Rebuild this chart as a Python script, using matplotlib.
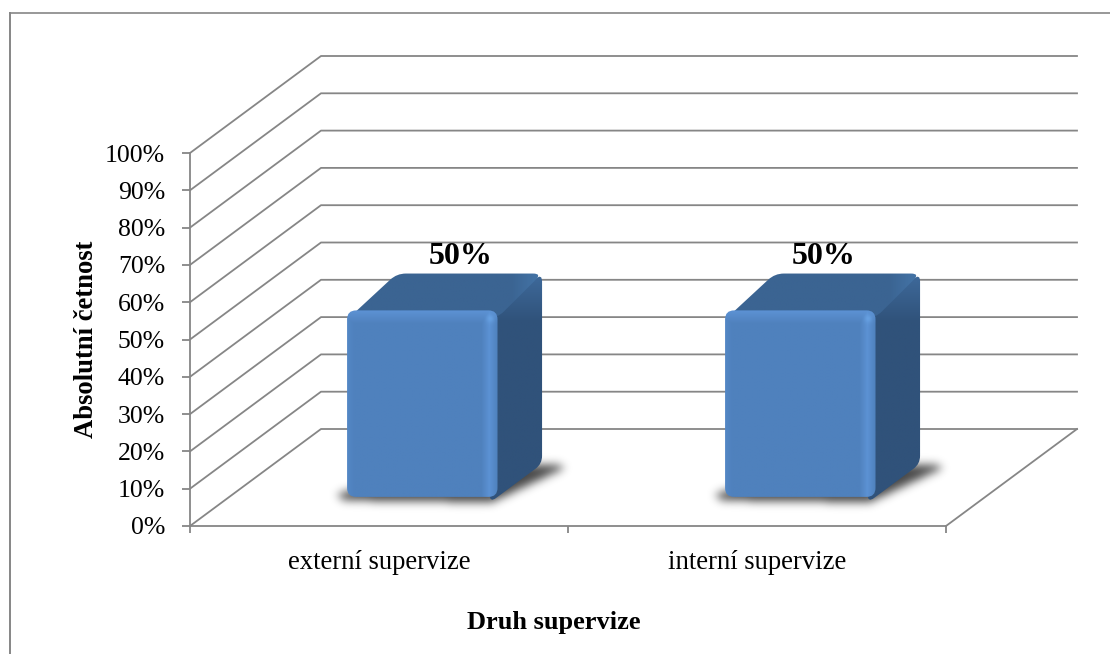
"""Pseudo-3D column chart of supervision types, drawn on a flat matplotlib axes."""

import matplotlib

matplotlib.use("Agg")

import matplotlib.pyplot as plt
import numpy as np
from matplotlib.lines import Line2D
from matplotlib.patches import PathPatch
from matplotlib.path import Path

CATEGORIES = ["externí supervize", "interní supervize"]
VALUES = [50, 50]
VALUE_LABELS = ["50%", "50%"]
Y_TICKS = [0, 10, 20, 30, 40, 50, 60, 70, 80, 90, 100]
Y_TICK_LABELS = ["0%", "10%", "20%", "30%", "40%", "50%", "60%", "70%", "80%", "90%", "100%"]
Y_TITLE = "Absolutní četnost"
X_TITLE = "Druh supervize"

WIDTH, HEIGHT = 1110, 654
AX_LEFT, AX_RIGHT, AX_TOP, AX_BOTTOM = 190, 946, 153, 526
PX_PER_CAT = (AX_RIGHT - AX_LEFT) / len(CATEGORIES)
PX_PER_VAL = (AX_BOTTOM - AX_TOP) / 100

# floor depth of the fake 3D box, in pixels
DEPTH_X, DEPTH_Y = 131, 97
BAR_WIDTH = 0.398
BAR_SHIFT = 4 / PX_PER_CAT
BAR_DEPTH_START, BAR_DEPTH_END = 0.30, 0.64

GRID = "#868686"
FRONT = np.array([79, 129, 189]) / 255
FRONT_LIGHT = np.array([92, 146, 212]) / 255
TOP = np.array([59, 100, 146]) / 255
TOP_LIGHT = np.array([66, 113, 163]) / 255
SIDE = np.array([48, 82, 122]) / 255
SIDE_LIGHT = np.array([60, 102, 150]) / 255


def project(cat, val, depth=0.0):
    """Category/value/depth to data coordinates on the flat axes."""
    return (cat + depth * DEPTH_X / PX_PER_CAT, val + depth * DEPTH_Y / PX_PER_VAL)


def rounded(points, radius):
    """Closed path through points with corners cut by radius pixels."""
    pts = np.array(points, dtype=float)
    scale = np.array([PX_PER_CAT, PX_PER_VAL])
    verts, codes = [], []
    n = len(pts)
    for i in range(n):
        p, prev, nxt = pts[i], pts[i - 1], pts[(i + 1) % n]
        t0 = radius / np.linalg.norm((prev - p) * scale)
        t1 = radius / np.linalg.norm((nxt - p) * scale)
        a = p + (prev - p) * t0
        b = p + (nxt - p) * t1
        verts.append(a)
        codes.append(Path.MOVETO if i == 0 else Path.LINETO)
        verts += [p, b]
        codes += [Path.CURVE3, Path.CURVE3]
    verts.append(verts[0])
    codes.append(Path.CLOSEPOLY)
    return Path(verts, codes)


def smooth(arr, size):
    kernel = np.exp(-0.5 * (np.arange(-3 * size, 3 * size + 1) / size) ** 2)
    kernel /= kernel.sum()
    arr = np.apply_along_axis(lambda r: np.convolve(r, kernel, mode="same"), 0, arr)
    return np.apply_along_axis(lambda r: np.convolve(r, kernel, mode="same"), 1, arr)


def painted(ax, path, colors, zorder):
    """Fill path with an RGB(A) array spanning the path's bounding box."""
    box = path.get_extents()
    patch = PathPatch(path, facecolor="none", edgecolor="none", zorder=zorder)
    ax.add_patch(patch)
    im = ax.imshow(
        colors,
        extent=(box.x0, box.x1, box.y0, box.y1),
        origin="upper",
        aspect="auto",
        interpolation="bilinear",
        zorder=zorder,
    )
    im.set_clip_path(patch)


def draw_shadow(ax, x0, x1):
    # soft footprint of the column on the floor
    corners = [
        project(x0 - 0.04, 0, BAR_DEPTH_START + 0.03),
        project(x0, 0, BAR_DEPTH_START - 0.03),
        project(x1, 0, BAR_DEPTH_START - 0.05),
        project(x1 + 0.07, 0, BAR_DEPTH_END - 0.03),
        project(x1 + 0.04, 0, BAR_DEPTH_END),
        project(x0 + 0.1, 0, BAR_DEPTH_END),
    ]
    xs = np.array([c[0] for c in corners])
    ys = np.array([c[1] for c in corners])
    pad_x, pad_y = 30 / PX_PER_CAT, 30 / PX_PER_VAL
    ext = (xs.min() - pad_x, xs.max() + pad_x, ys.min() - pad_y, ys.max() + pad_y)
    nx = int((ext[1] - ext[0]) * PX_PER_CAT)
    ny = int((ext[3] - ext[2]) * PX_PER_VAL)
    gx, gy = np.meshgrid(np.linspace(ext[0], ext[1], nx), np.linspace(ext[3], ext[2], ny))
    mask = Path(corners + corners[:1]).contains_points(np.c_[gx.ravel(), gy.ravel()])
    alpha = smooth(mask.reshape(ny, nx).astype(float), 4.5) * 0.72
    rgba = np.zeros((ny, nx, 4))
    rgba[..., 3] = alpha
    ax.imshow(
        rgba, extent=ext, origin="upper", aspect="auto", zorder=3, interpolation="bilinear", clip_on=False
    )


def draw_bar(ax, center, value):
    mid = center + BAR_SHIFT
    x0, x1 = mid - BAR_WIDTH / 2, mid + BAR_WIDTH / 2
    ds, de = BAR_DEPTH_START, BAR_DEPTH_END

    # back edge of the top sits slightly higher than the side's own depth gives
    back_y = project(0, value, de + 0.04)[1]
    back_right = project(x1, 0, de)[0]
    back_left = project(x0, 0, de + 0.04)[0]

    draw_shadow(ax, x0, x1)

    # side face runs a little under the front so no gap opens at its corners
    under = ds - 0.06
    side = rounded(
        [project(x1, 0, under), project(x1, 0, de), (back_right, back_y), project(x1, value, under)], 8
    )
    box = side.get_extents()
    ny = int((box.y1 - box.y0) * PX_PER_VAL)
    fade = np.clip((np.arange(ny) - 5) / 40.0, 0, 1)[:, None, None]
    painted(ax, side, np.repeat(SIDE_LIGHT * (1 - fade) + SIDE * fade, 8, axis=1), 4)

    # top face, slightly lighter towards the right corner
    top = rounded(
        [
            project(x0 + 0.005, value - 2, ds),
            project(x1, value - 2, ds),
            (back_right, back_y),
            (back_left, back_y),
        ],
        9,
    )
    box = top.get_extents()
    nx = int((box.x1 - box.x0) * PX_PER_CAT)
    fade = np.clip((np.arange(nx) - nx + 28) / 22.0, 0, 1)[None, :, None]
    painted(ax, top, np.repeat(TOP * (1 - fade) + TOP_LIGHT * fade, 8, axis=0), 5)

    # front face with bevelled edges
    front = rounded([project(x0, 0, ds), project(x1, 0, ds), project(x1, value, ds), project(x0, value, ds)], 9)
    box = front.get_extents()
    nx = int((box.x1 - box.x0) * PX_PER_CAT)
    ny = int((box.y1 - box.y0) * PX_PER_VAL)
    px, py = np.meshgrid(np.arange(nx), np.arange(ny))
    glow = np.maximum.reduce(
        [
            np.clip(1 - py / 13.0, 0, 1),
            np.clip(1 - np.abs(px - (nx - 9)) / 8.0, 0, 1),
            np.clip(1 - px / 7.0, 0, 1) * 0.35,
        ]
    )[..., None]
    colors = FRONT * (1 - glow) + FRONT_LIGHT * glow
    spot = np.exp(-(((px - (nx - 8)) / 4.0) ** 2 + ((py - 8) / 4.0) ** 2))[..., None] * 0.6
    colors = colors * (1 - spot) + np.array([110, 170, 235]) / 255 * spot
    painted(ax, front, colors, 6)


fig = plt.figure(figsize=(WIDTH / 100, HEIGHT / 100), dpi=100)
plt.rcParams["font.family"] = ["Liberation Serif", "DejaVu Serif"]

ax = fig.add_axes(
    [
        AX_LEFT / WIDTH,
        1 - AX_BOTTOM / HEIGHT,
        (AX_RIGHT - AX_LEFT) / WIDTH,
        (AX_BOTTOM - AX_TOP) / HEIGHT,
    ]
)
ax.patch.set_alpha(0)

# chart frame: only the top and left edges show
fig.add_artist(Line2D([10 / WIDTH, 10 / WIDTH], [0, 1 - 13 / HEIGHT], color=GRID, lw=1.4))
fig.add_artist(Line2D([10 / WIDTH, 1], [1 - 13 / HEIGHT, 1 - 13 / HEIGHT], color=GRID, lw=1.2))

n_cat = len(CATEGORIES)
for tick in Y_TICKS:
    mid = project(0, tick, 1)
    end = project(n_cat, tick, 1)
    ax.plot([0, mid[0], end[0]], [tick, mid[1], end[1]], color=GRID, lw=1.3, clip_on=False, zorder=1)

floor_end = project(n_cat, 0, 1)
ax.plot([n_cat, floor_end[0]], [0, floor_end[1]], color=GRID, lw=1.3, clip_on=False, zorder=1)

centers = np.arange(n_cat) + 0.5
for center, value in zip(centers, VALUES):
    draw_bar(ax, center, value)

# the two value labels do not sit at the same spot over their columns
label_shift = [3, -12]
for center, value, text, shift in zip(centers, VALUES, VALUE_LABELS, label_shift):
    ax.annotate(
        text,
        xy=project(center, value, 0.6),
        xytext=(shift * 0.72, 18),
        textcoords="offset points",
        ha="center",
        va="center",
        fontsize=23,
        fontweight="bold",
        color="black",
        annotation_clip=False,
        zorder=8,
    )

ax.set_xlim(0, n_cat)
ax.set_ylim(0, 100)
ax.set_yticks(Y_TICKS, Y_TICK_LABELS)
ax.set_xticks(np.arange(n_cat + 1), [""] * (n_cat + 1))
ax.set_xticks(centers, CATEGORIES, minor=True)
ax.tick_params(axis="y", length=6, width=1.3, color=GRID, labelsize=18.5, pad=12)
ax.tick_params(axis="x", which="major", length=5, width=1.3, color=GRID)
ax.tick_params(axis="x", which="minor", length=0, labelsize=19.2, pad=17)
for name in ("top", "right"):
    ax.spines[name].set_visible(False)
for name in ("left", "bottom"):
    ax.spines[name].set_color(GRID)
    ax.spines[name].set_linewidth(1.3)

ax.set_ylabel(Y_TITLE, fontsize=19.2, fontweight="bold", va="center")
ax.yaxis.set_label_coords((87 - AX_LEFT) / (AX_RIGHT - AX_LEFT), (AX_BOTTOM - 339) / (AX_BOTTOM - AX_TOP))
ax.set_xlabel(X_TITLE, fontsize=19, fontweight="bold", va="center")
ax.xaxis.set_label_coords((554 - AX_LEFT) / (AX_RIGHT - AX_LEFT), (AX_BOTTOM - 622) / (AX_BOTTOM - AX_TOP))

fig.savefig("out.png", dpi=100)
plt.close(fig)
